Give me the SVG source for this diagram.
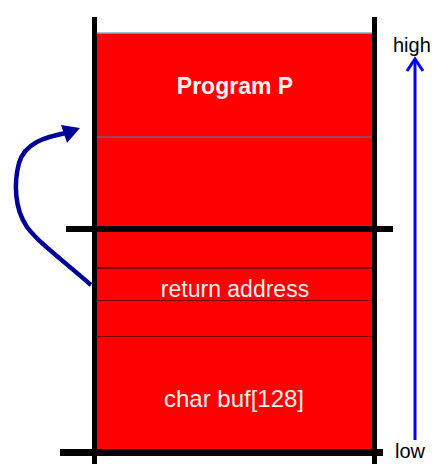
<svg xmlns="http://www.w3.org/2000/svg" width="438" height="473" viewBox="0 0 438 473">
  <style>
    .cell { fill: #FF0000; }
    .sep { stroke: #7A0000; stroke-width: 2; }
    .wall { fill: #000000; }
    .lbl { font-family: "Liberation Sans", Arial, sans-serif; fill: #F2F2F2; text-anchor: middle; }
    .axis { font-family: "Liberation Sans", Arial, sans-serif; fill: #000000; font-size: 20px; }
  </style>
  <rect width="438" height="473" fill="#FFFFFF"/>
  <g id="program-p">
    <rect class="cell" x="97" y="33" width="275" height="104"/>
    <line x1="97" y1="33" x2="372" y2="33" stroke="#8FA8C8" stroke-width="1.5"/>
    <text class="lbl" x="235" y="94" font-size="23" font-weight="bold">Program P</text>
  </g>
  <g id="upper-frame">
    <rect class="cell" x="97" y="137" width="275" height="92"/>
    <line x1="97" y1="137" x2="372" y2="137" stroke="#7A5A80" stroke-width="1.5"/>
  </g>
  <g id="top-slot">
    <rect class="cell" x="97" y="229" width="275" height="39"/>
  </g>
  <g id="return-address">
    <rect class="cell" x="97" y="268" width="275" height="33"/>
    <line class="sep" x1="97" y1="268" x2="372" y2="268"/>
    <line class="sep" x1="97" y1="301" x2="372" y2="301"/>
    <text class="lbl" x="235" y="297" font-size="23">return address</text>
  </g>
  <g id="mid-slot">
    <rect class="cell" x="97" y="301" width="275" height="36"/>
    <line class="sep" x1="97" y1="337" x2="372" y2="337"/>
  </g>
  <g id="char-buf">
    <rect class="cell" x="97" y="337" width="275" height="116"/>
    <text class="lbl" x="234" y="407" font-size="24">char buf[128]</text>
  </g>
  <g id="frame-walls">
    <rect class="wall" x="92" y="17" width="5" height="447"/>
    <rect class="wall" x="372" y="17" width="5" height="447"/>
    <rect class="wall" x="66" y="226" width="327" height="6"/>
    <rect class="wall" x="60" y="449" width="323" height="7"/>
  </g>
  <g id="connectors">
    <path d="M 91 285 C 60 258 38 242 27 227 C 14 208 14 182 19 163 C 25 143 45 137 66 133" fill="none" stroke="#000099" stroke-width="4.5"/>
    <polygon points="80,128 61,125 67,143" fill="#000099"/>
    <line x1="415" y1="440" x2="415" y2="60" stroke="#0000FF" stroke-width="3"/>
    <polyline points="407,71 415,59 423,71" fill="none" stroke="#0000FF" stroke-width="3"/>
  </g>
  <g id="axis-labels">
    <text class="axis" x="393" y="52">high</text>
    <text class="axis" x="395" y="458">low</text>
  </g>
</svg>
